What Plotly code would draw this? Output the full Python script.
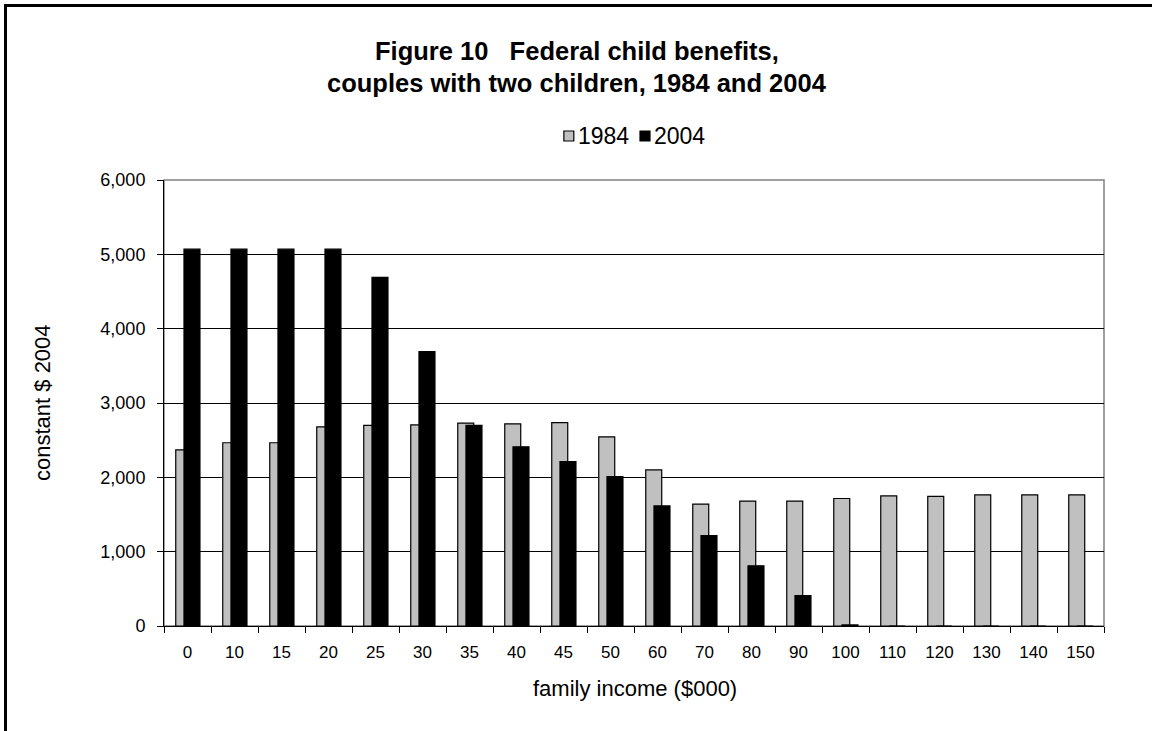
import plotly.graph_objects as go

# Family income brackets ($000) and federal child benefits (constant 2004 dollars)
income = ["0", "10", "15", "20", "25", "30", "35", "40", "45", "50",
          "60", "70", "80", "90", "100", "110", "120", "130", "140", "150"]
benefits_1984 = [2370, 2465, 2465, 2680, 2700, 2705, 2730, 2720, 2735, 2545,
                 2100, 1640, 1680, 1680, 1715, 1750, 1745, 1765, 1765, 1765]
benefits_2004 = [5070, 5070, 5070, 5070, 4690, 3690, 2700, 2410, 2210, 2010,
                 1615, 1215, 810, 410, 15, 0, 0, 0, 0, 0]
y_ticks = [0, 1000, 2000, 3000, 4000, 5000, 6000]
series = [("1984", benefits_1984, "#C0C0C0"), ("2004", benefits_2004, "black")]

W, H = 1152, 731
L, R, T, B = 164, 48, 180, 105
PW, PH = W - L - R, H - T - B
FONT = "Liberation Sans, Arial, sans-serif"


def px_x(x):
    return (x - L) / PW


def px_y(y):
    return (H - B - y) / PH


fig = go.Figure()
offsets = [-0.25, -0.075]
for (name, values, colour), off in zip(series, offsets):
    fig.add_trace(go.Bar(
        x=income, y=values, name=name,
        marker=dict(color=colour, line=dict(color="black", width=1.2)),
        width=0.34, offset=off, showlegend=False,
    ))

shapes = [
    # plot area frame
    dict(type="rect", xref="paper", yref="paper", x0=0, x1=1, y0=0, y1=1,
         line=dict(color="#808080", width=1.5), layer="below"),
    # outer chart frame
    dict(type="rect", xref="paper", yref="paper",
         x0=px_x(5.5), x1=px_x(1170), y0=px_y(5.5), y1=px_y(760),
         line=dict(color="black", width=3), layer="below"),
]

title_font = dict(family=FONT, size=25.5, color="black")
annotations = [
    dict(text="<b>Figure 10   Federal child benefits,</b>",
         xref="paper", yref="paper", x=px_x(577), y=px_y(51),
         xanchor="center", yanchor="middle", showarrow=False, font=title_font),
    dict(text="<b>couples with two children, 1984 and 2004</b>",
         xref="paper", yref="paper", x=px_x(577), y=px_y(83),
         xanchor="center", yanchor="middle", showarrow=False, font=title_font),
    dict(text="constant $ 2004", xref="paper", yref="paper",
         x=px_x(42), y=0.5, textangle=-90, showarrow=False,
         xanchor="center", yanchor="middle",
         font=dict(family=FONT, size=22, color="black")),
    dict(text="family income ($000)", xref="paper", yref="paper",
         x=px_x(635), y=px_y(688), showarrow=False,
         xanchor="center", yanchor="middle",
         font=dict(family=FONT, size=22, color="black")),
]

# legend: small framed squares followed by the series names
LEG_FONT = 23
SQ = 10
leg_y = 136
text_w = 4 * 0.556 * LEG_FONT
total = 2 * (SQ + 3 + text_w) + 12
x = 634 - total / 2
for name, _, colour in series:
    shapes.append(dict(type="rect", xref="paper", yref="paper",
                       x0=px_x(x), x1=px_x(x + SQ),
                       y0=px_y(leg_y + SQ / 2), y1=px_y(leg_y - SQ / 2),
                       fillcolor=colour, line=dict(color="black", width=1.2)))
    annotations.append(dict(text=name, xref="paper", yref="paper",
                            x=px_x(x + SQ + 2), y=px_y(leg_y),
                            xanchor="left", yanchor="middle", showarrow=False,
                            font=dict(family=FONT, size=LEG_FONT, color="black")))
    x += SQ + 3 + text_w + 12

fig.update_layout(
    width=W, height=H,
    margin=dict(l=L, r=R, t=T, b=B, pad=0),
    paper_bgcolor="white", plot_bgcolor="white",
    barmode="overlay",
    font=dict(family=FONT, size=17, color="black"),
    showlegend=False,
    shapes=shapes,
    annotations=annotations,
)

fig.update_xaxes(
    type="category", showline=True, linecolor="black", linewidth=1,
    ticks="outside", tickson="boundaries", ticklen=6, tickcolor="black",
    showgrid=False, ticklabelstandoff=11,
    tickfont=dict(family=FONT, size=17, color="black"),
)
fig.update_yaxes(
    range=[0, 6000], tickvals=y_ticks, tickformat=",d",
    showline=True, linecolor="black", linewidth=1,
    ticks="outside", ticklen=6, tickcolor="black",
    showgrid=True, gridcolor="black", gridwidth=1,
    zeroline=False, ticklabelstandoff=8,
    tickfont=dict(family=FONT, size=18, color="black"),
)

fig.write_html("out.html")
